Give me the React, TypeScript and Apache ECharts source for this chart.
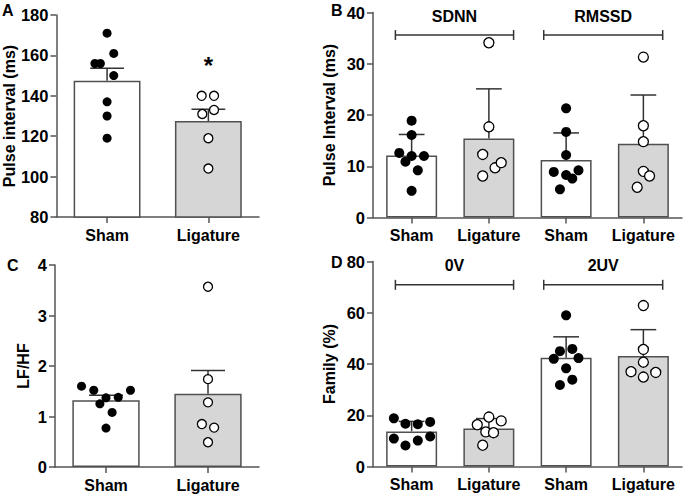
import React, { useEffect, useRef } from "react";
import * as echarts from "echarts";

// ---------- categories ----------
const CATS_2 = ["Sham", "Ligature"];
const CATS_4 = ["Sham", "Ligature", "Sham", "Ligature"];

// ---------- Panel A: Pulse interval (ms) ----------
const A_SHAM = [171, 161, 156, 156, 150, 137, 130, 119];
const A_SHAM_JIT = [0, 0.066, -0.12, -0.066, 0.066, 0, 0, 0];
const A_LIG = [140, 140, 133, 131, 119, 104];
const A_LIG_JIT = [-0.066, 0.056, 0.056, -0.06, 0, 0];
const A_MEAN = [147.5, 127.5];
const A_ERR_TOP = [153.6, 133.3];
const A_STAR_X = [1.5];
const A_STAR_Y = [155];

// ---------- Panel B: SDNN / RMSSD ----------
const B_SDNN_SHAM = [18.9, 16.1, 12.6, 12.0, 10.9, 12.0, 9.2, 5.2];
const B_SDNN_SHAM_JIT = [0, 0, -0.16, 0, -0.08, 0.16, 0.08, 0];
const B_SDNN_LIG = [34.1, 17.7, 12.3, 9.7, 10.7, 8.1];
const B_SDNN_LIG_JIT = [0, 0, -0.08, 0.08, 0.16, -0.08];
const B_RMSSD_SHAM = [21.3, 16.7, 12.2, 8.9, 9.2, 8.3, 7.6, 5.5];
const B_RMSSD_SHAM_JIT = [0, 0, 0, -0.16, 0.16, 0, 0.08, -0.08];
const B_RMSSD_LIG = [31.3, 17.9, 14.8, 9.0, 8.1, 5.9];
const B_RMSSD_LIG_JIT = [0, 0, 0, 0, 0.08, -0.08];
const B_MEAN = [12.1, 15.4, 11.2, 14.4];
const B_ERR_TOP = [16.2, 25.1, 16.5, 23.9];
const B_BRACKET_LABELS = ["SDNN", "RMSSD"];
const B_BRACKET_START = [0.29, 2.21];
const B_BRACKET_END = [1.82, 3.75];
const B_BRACKET_Y = [35.6, 35.6];

// ---------- Panel C: LF/HF ----------
const C_SHAM = [1.6, 1.52, 1.52, 1.38, 1.37, 1.25, 1.08, 0.77];
const C_SHAM_JIT = [-0.24, -0.12, 0.24, 0.12, 0, -0.06, 0.06, 0];
const C_LIG = [3.57, 1.74, 1.28, 0.85, 0.78, 0.49];
const C_LIG_JIT = [0, 0, 0, -0.06, 0.06, 0];
const C_MEAN = [1.32, 1.45];
const C_ERR_TOP = [1.42, 1.91];

// ---------- Panel D: Family (%) ----------
const D_0V_SHAM = [18.8, 16.7, 16.5, 17.4, 10.9, 10.1, 11.7, 8.2];
const D_0V_SHAM_JIT = [-0.23, -0.08, 0.08, 0.24, -0.23, 0.08, 0.24, -0.08];
const D_0V_LIG = [19.3, 16.3, 17.8, 13.5, 13.2, 8.3];
const D_0V_LIG_JIT = [0, -0.15, 0.16, -0.04, 0.06, -0.08];
const D_2UV_SHAM = [59.0, 45.0, 45.9, 42.0, 42.3, 38.3, 33.9, 31.8];
const D_2UV_SHAM_JIT = [0, -0.08, 0.08, -0.16, 0.16, 0, 0.08, -0.08];
const D_2UV_LIG = [62.8, 45.7, 40.7, 37.0, 36.7, 34.9];
const D_2UV_LIG_JIT = [0, 0, 0, -0.16, 0.16, 0];
const D_MEAN = [13.7, 14.8, 42.4, 43.1];
const D_ERR_TOP = [17.6, 18.7, 50.6, 53.4];
const D_BRACKET_LABELS = ["0V", "2UV"];
const D_BRACKET_START = [0.29, 2.21];
const D_BRACKET_END = [1.82, 3.75];
const D_BRACKET_Y = [70.9, 70.9];

// ---------- axis ranges ----------
const Y_NAMES = ["Pulse interval (ms)", "Pulse Interval (ms)", "LF/HF", "Family (%)"];
const Y_MIN = [80, 0, 0, 0];
const Y_MAX = [180, 40, 4, 80];
const Y_INTERVAL = [20, 10, 1, 20];
const PANEL_LETTERS = ["A", "B", "C", "D"];

// ---------- styling ----------
const FONT = "'Liberation Sans', Arial, sans-serif";
const AXIS_COLOR = "#555555";
const BAR_EDGE = "#505050";
const LIG_FILL = "#d6d6d6";
const ERR_COLOR = "#333333";

const GRIDS = [
  { left: 55, top: 15, width: 204, height: 202 },
  { left: 373, top: 12.5, width: 309, height: 205 },
  { left: 55, top: 265, width: 204, height: 202 },
  { left: 373, top: 261.5, width: 309, height: 205 },
];
const NAME_GAP = [37, 36, 24, 36];
const LETTER_POS = [
  { left: 2, top: 2 },
  { left: 331, top: 2 },
  { left: 7, top: 257 },
  { left: 331, top: 254 },
];

function buildOption() {
  const cats = [CATS_2, CATS_4, CATS_2, CATS_4];
  const means = [A_MEAN, B_MEAN, C_MEAN, D_MEAN];
  const errTops = [A_ERR_TOP, B_ERR_TOP, C_ERR_TOP, D_ERR_TOP];
  const points: [number[], number[], number][][] = [
    [
      [A_SHAM, A_SHAM_JIT, 0],
      [A_LIG, A_LIG_JIT, 1],
    ],
    [
      [B_SDNN_SHAM, B_SDNN_SHAM_JIT, 0],
      [B_SDNN_LIG, B_SDNN_LIG_JIT, 1],
      [B_RMSSD_SHAM, B_RMSSD_SHAM_JIT, 2],
      [B_RMSSD_LIG, B_RMSSD_LIG_JIT, 3],
    ],
    [
      [C_SHAM, C_SHAM_JIT, 0],
      [C_LIG, C_LIG_JIT, 1],
    ],
    [
      [D_0V_SHAM, D_0V_SHAM_JIT, 0],
      [D_0V_LIG, D_0V_LIG_JIT, 1],
      [D_2UV_SHAM, D_2UV_SHAM_JIT, 2],
      [D_2UV_LIG, D_2UV_LIG_JIT, 3],
    ],
  ];
  const dotSize = [9, 10, 9, 10];

  const grid: any[] = [];
  const xAxis: any[] = [];
  const yAxis: any[] = [];
  const series: any[] = [];

  for (let g = 0; g < 4; g++) {
    grid.push({ ...GRIDS[g], containLabel: false });
    xAxis.push({
      type: "category",
      gridIndex: g,
      data: cats[g],
      axisLine: { show: true, lineStyle: { color: AXIS_COLOR, width: 1.5 } },
      axisTick: { show: true, alignWithLabel: true, interval: 0, length: 6, lineStyle: { color: AXIS_COLOR, width: 1.5 } },
      axisLabel: { interval: 0, margin: 10, color: "#000", fontWeight: "bold", fontSize: 16, fontFamily: FONT },
      splitLine: { show: false },
    });
    xAxis.push({
      type: "value",
      gridIndex: g,
      min: 0,
      max: cats[g].length,
      show: false,
    });
    yAxis.push({
      type: "value",
      gridIndex: g,
      min: Y_MIN[g],
      max: Y_MAX[g],
      interval: Y_INTERVAL[g],
      name: Y_NAMES[g],
      nameLocation: "middle",
      nameGap: NAME_GAP[g],
      nameTextStyle: { color: "#000", fontWeight: "bold", fontSize: 16, fontFamily: FONT },
      axisLine: { show: true, lineStyle: { color: AXIS_COLOR, width: 1.5 } },
      axisTick: { show: true, length: 6, lineStyle: { color: AXIS_COLOR, width: 1.5 } },
      axisLabel: { margin: 8, color: "#000", fontWeight: "bold", fontSize: 16.5, fontFamily: FONT },
      splitLine: { show: false },
    });

    // bars
    series.push({
      type: "bar",
      xAxisIndex: 2 * g,
      yAxisIndex: g,
      barWidth: "66%",
      clip: true,
      silent: true,
      itemStyle: { borderColor: BAR_EDGE, borderWidth: 1.5 },
      data: means[g].map((v, i) => ({
        value: v,
        itemStyle: { color: i % 2 === 0 ? "#ffffff" : LIG_FILL, borderColor: BAR_EDGE, borderWidth: 1.5 },
      })),
    });

    // error bars (upper SEM)
    series.push({
      type: "custom",
      xAxisIndex: 2 * g + 1,
      yAxisIndex: g,
      silent: true,
      data: means[g].map((v, i) => [i + 0.5, v, errTops[g][i]]),
      renderItem: (params: any, api: any) => {
        const x = api.value(0);
        const p0 = api.coord([x, api.value(1)]);
        const p1 = api.coord([x, api.value(2)]);
        const half = api.size([1, 0])[0] / 6;
        const st = { stroke: ERR_COLOR, lineWidth: 1.5 };
        return {
          type: "group",
          children: [
            { type: "line", shape: { x1: p0[0], y1: p0[1], x2: p1[0], y2: p1[1] }, style: st },
            { type: "line", shape: { x1: p1[0] - half, y1: p1[1], x2: p1[0] + half, y2: p1[1] }, style: st },
          ],
        };
      },
    });

    // individual points
    points[g].forEach(([vals, jit, ci]) => {
      const lig = ci % 2 === 1;
      series.push({
        type: "scatter",
        xAxisIndex: 2 * g + 1,
        yAxisIndex: g,
        symbol: "circle",
        symbolSize: dotSize[g],
        silent: true,
        itemStyle: lig
          ? { color: "#ffffff", borderColor: "#000000", borderWidth: 1.3, opacity: 1 }
          : { color: "#000000", opacity: 1 },
        data: vals.map((v, i) => [ci + 0.5 + jit[i], v]),
      });
    });
  }

  // brackets for B and D
  const brackets: [number, string[], number[], number[], number[]][] = [
    [1, B_BRACKET_LABELS, B_BRACKET_START, B_BRACKET_END, B_BRACKET_Y],
    [3, D_BRACKET_LABELS, D_BRACKET_START, D_BRACKET_END, D_BRACKET_Y],
  ];
  brackets.forEach(([g, labels, starts, ends, ys]) => {
    series.push({
      type: "custom",
      xAxisIndex: 2 * g + 1,
      yAxisIndex: g,
      silent: true,
      data: starts.map((s, i) => [s, ends[i], ys[i]]),
      renderItem: (params: any, api: any) => {
        const a = api.coord([api.value(0), api.value(2)]);
        const b = api.coord([api.value(1), api.value(2)]);
        const st = { stroke: "#333333", lineWidth: 1.5 };
        const h = 5;
        return {
          type: "group",
          children: [
            { type: "line", shape: { x1: a[0], y1: a[1], x2: b[0], y2: b[1] }, style: st },
            { type: "line", shape: { x1: a[0], y1: a[1] - h, x2: a[0], y2: a[1] + h }, style: st },
            { type: "line", shape: { x1: b[0], y1: b[1] - h, x2: b[0], y2: b[1] + h }, style: st },
            {
              type: "text",
              style: {
                text: labels[params.dataIndex],
                x: (a[0] + b[0]) / 2,
                y: a[1] - 19,
                textAlign: "center",
                textVerticalAlign: "middle",
                fill: "#000",
                font: `bold 16px ${FONT}`,
              },
            },
          ],
        };
      },
    });
  });

  // significance asterisk in A
  series.push({
    type: "custom",
    xAxisIndex: 1,
    yAxisIndex: 0,
    silent: true,
    data: A_STAR_X.map((x, i) => [x, A_STAR_Y[i]]),
    renderItem: (params: any, api: any) => {
      const p = api.coord([api.value(0), api.value(1)]);
      return {
        type: "text",
        style: {
          text: "*",
          x: p[0],
          y: p[1],
          textAlign: "center",
          textVerticalAlign: "middle",
          fill: "#000",
          font: `bold 24px ${FONT}`,
        },
      };
    },
  });

  const graphic = PANEL_LETTERS.map((t, i) => ({
    type: "text",
    left: LETTER_POS[i].left,
    top: LETTER_POS[i].top,
    style: { text: t, fill: "#000", font: `bold 16px ${FONT}` },
  }));

  return {
    animation: false,
    backgroundColor: "#ffffff",
    grid,
    xAxis,
    yAxis,
    series,
    graphic,
  };
}

export default function App() {
  const ref = useRef<HTMLDivElement>(null);
  useEffect(() => {
    if (!ref.current) return;
    const chart = echarts.init(ref.current, undefined, { renderer: "svg" });
    chart.setOption(buildOption() as any);
    return () => chart.dispose();
  }, []);
  return (
    <div
      ref={ref}
      style={{ position: "absolute", left: 0, top: 0, width: 685, height: 496, background: "#fff" }}
    />
  );
}
